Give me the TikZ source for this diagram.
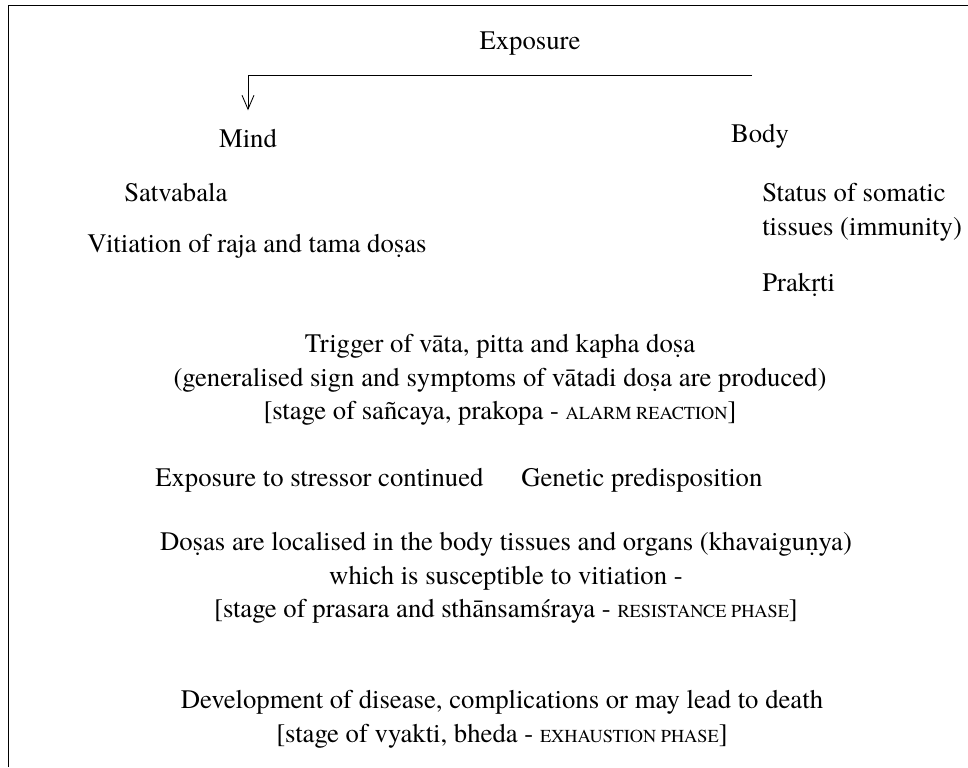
\documentclass[tikz,border=0pt]{standalone}
\usepackage{fontspec}
\setmainfont{texgyretermes}[Extension=.otf, UprightFont=*-regular, BoldFont=*-bold, ItalicFont=*-italic, BoldItalicFont=*-bolditalic]
\usetikzlibrary{arrows.meta}
\newcommand{\phase}[1]{{\fontsize{13}{13}\selectfont #1}}
\tikzset{txt/.style={inner sep=0pt, font=\fontsize{19}{24}\selectfont}}
\begin{document}
\begin{tikzpicture}[x=1cm,y=1cm]
\useasboundingbox (0,0) rectangle (24.2,-19.175);
\draw[line width=0.6pt] (0.2,-19.175) -- (0.2,-0.125) -- (24.2,-0.125);

\node[txt] (expo) at (13.25,-1.1) {Exposure};
\node[txt] (mind) at (6.2,-3.475) {Mind};
\node[txt] (body) at (19.0,-3.4) {Body};
\coordinate (start) at (18.8,-1.875);
\draw[line width=0.6pt, -{Straight Barb[length=3.5mm,width=3mm]}, shorten >=4.8mm]
  (start) -| (mind.north);

\node[txt, anchor=west] (satva) at (3.1,-4.825) {Satvabala};
\node[txt, anchor=west] (vitiation) at (2.175,-6.15) {Vitiation of raja and tama doṣas};
\node[txt, anchor=west, align=left] (status) at (19.05,-5.3) {Status of somatic\\tissues (immunity)};
\node[txt, anchor=west] (prakrti) at (19.05,-7.125) {Prakṛti};

\node[txt, align=center] (trigger) at (12.5,-9.5) {Trigger of vāta, pitta and kapha doṣa\\
  (generalised sign and symptoms of vātadi doṣa are produced)\\
  {[}stage of sañcaya, prakopa - \phase{ALARM REACTION}]};

\node[txt, anchor=west] (stressor) at (3.875,-12.0) {Exposure to stressor continued};
\node[txt, anchor=west] (genetic) at (13.025,-12.0) {Genetic predisposition};

\node[txt, align=center] (localised) at (12.65,-14.45) {Doṣas are localised in the body tissues and organs (khavaiguṇya)\\
  which is susceptible to vitiation -\\
  {[}stage of prasara and sthānsamśraya - \phase{RESISTANCE PHASE}]};

\node[txt, align=center] (disease) at (12.55,-17.975) {Development of disease, complications or may lead to death\\
  {[}stage of vyakti, bheda - \phase{EXHAUSTION PHASE}]};
\end{tikzpicture}
\end{document}
